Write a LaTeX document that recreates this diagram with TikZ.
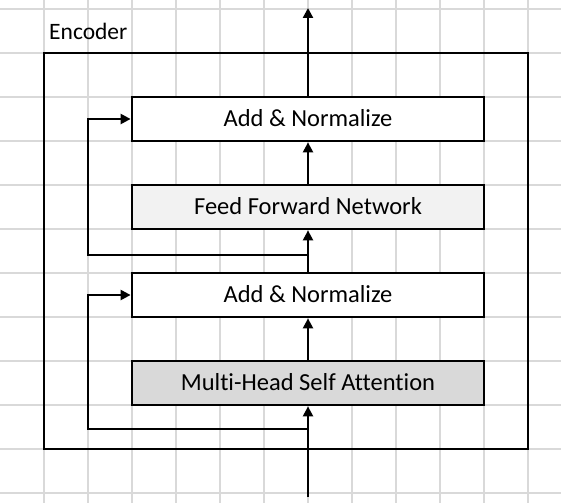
\documentclass[tikz,border=0pt]{standalone}
\usepackage{fontspec}
\setmainfont{Carlito}[Ligatures=NoCommon]
\usetikzlibrary{arrows.meta}
\definecolor{gridc}{RGB}{217,217,217}
\definecolor{ffnfill}{RGB}{242,242,242}
\definecolor{mhsafill}{RGB}{217,217,217}
\tikzset{
 blk/.style={draw=black, line width=2.8pt, minimum width=352pt, minimum height=44pt, inner sep=0pt,
   text height=15pt, text depth=0pt, font=\fontsize{24.5}{28}\selectfont, anchor=center},
 conn/.style={line width=2.3pt, -{Triangle[length=10pt,width=10pt]}},
 gridline/.style={gridc, line width=1.3pt},
}
\begin{document}
\begin{tikzpicture}[x=1pt,y=-1pt]
\useasboundingbox (0,0) rectangle (561,503);
\foreach \i in {0,...,11} {
  \draw[gridline] (0,9+44*\i) -- (561,9+44*\i);
  \draw[gridline] (44+44*\i,0) -- (44+44*\i,503);
}
\node[draw=black, line width=2.8pt, minimum width=484pt, minimum height=396pt, inner sep=0pt] (enc) at (286,251) {};
\node[anchor=base west, inner sep=0pt, font=\fontsize{23.5}{27}\selectfont] (enclabel) at (49,40) {Encoder};

\node[blk, fill=white] (an2) at (308,119) {Add \& Normalize};
\node[blk, fill=ffnfill] (ffn) at (308,207) {Feed Forward Network};
\node[blk, fill=white] (an1) at (308,295) {Add \& Normalize};
\node[blk, fill=mhsafill] (mhsa) at (308,383) {Multi-Head Self Attention};

\coordinate (in) at (308,497);
\coordinate (s1) at (308,429);
\coordinate (r1) at (88,429);
\coordinate (s2) at (308,255);
\coordinate (r2) at (88,255);
\coordinate (out) at (308,8);

\draw[conn] (in) -- (mhsa.south);
\draw[conn] (s1) -- (r1) |- (an1.west);
\draw[conn] (mhsa.north) -- (an1.south);
\draw[conn] (an1.north) -- (ffn.south);
\draw[conn] (s2) -- (r2) |- (an2.west);
\draw[conn] (ffn.north) -- (an2.south);
\draw[conn] (an2.north) -- (out);
\end{tikzpicture}
\end{document}
